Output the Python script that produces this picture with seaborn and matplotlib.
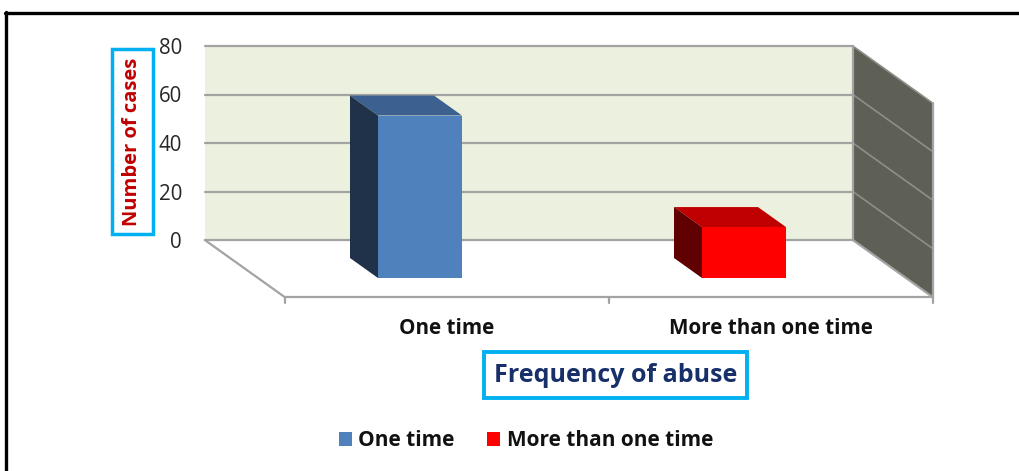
import matplotlib
matplotlib.use("Agg")
import matplotlib.pyplot as plt
import seaborn as sns
import pandas as pd
from matplotlib.patches import Polygon, Rectangle, Patch
from matplotlib.lines import Line2D

# ---- data ----
categories = ["One time", "More than one time"]
cases = [67, 21]
y_ticks = [0, 20, 40, 60, 80]
y_title = "Number of cases"
x_title = "Frequency of abuse"

# ---- colours ----
front_colors = ["#4F81BD", "#FF0000"]
top_colors = ["#3C6190", "#C00000"]
side_colors = ["#203249", "#600000"]
WALL = "#EBF1DE"
SIDE_WALL = "#5E5F55"
GRID = "#A3A3A3"
BOX = "#00B0F0"

W, H = 1019, 471
sns.set_theme(style="white")
plt.rcParams["font.family"] = ["Open Sans", "DejaVu Sans"]

fig = plt.figure(figsize=(W / 100, H / 100), dpi=100)
fig.patch.set_facecolor("white")

# ---- 3-D box geometry (pixels) ----
PX_CAT = 324.0          # pixels per category
PX_VAL = 194.0 / 80     # pixels per case
X0_PX, Y0_PX = 420.0, 278.0   # first bar front face centre / baseline
SLANT = 1.4             # horizontal shift per pixel of depth
Z_BAR = 20              # bar depth
Z_WALL = 38             # back wall depth (behind bar fronts)
Z_FRONT = -19           # front edge of floor
VMAX = y_ticks[-1]


def fx(px):
    return px / W


def fy(py):
    return 1 - py / H


# back wall: its own axes so the value ticks are real ticks
wall_left = X0_PX - 0.5 * PX_CAT - SLANT * Z_WALL
wall_bottom = Y0_PX - Z_WALL
wall_top = wall_bottom - VMAX * PX_VAL
wall_ax = fig.add_axes([fx(wall_left), fy(wall_bottom),
                        2 * PX_CAT / W, (wall_bottom - wall_top) / H])
wall_ax.set_facecolor(WALL)
wall_ax.set_ylim(0, VMAX)
wall_ax.set_xlim(0, 1)
wall_ax.set_yticks(y_ticks)
wall_ax.set_yticklabels([str(t) for t in y_ticks])
wall_ax.set_xticks([])
wall_ax.tick_params(axis="y", length=0, pad=16.5, labelsize=14.8,
                    labelcolor="#262626")
for s in wall_ax.spines.values():
    s.set_visible(False)
wall_ax.set_zorder(0)

# main axes spanning the figure, scaled to the front plane of the bars
ax = fig.add_axes([0, 0, 1, 1])
ax.set_zorder(1)
ax.patch.set_visible(False)

df = pd.DataFrame({"Frequency": categories, "Cases": cases})
sns.barplot(data=df, x="Frequency", y="Cases", hue="Frequency",
            palette=front_colors, width=84 / PX_CAT, saturation=1,
            legend=False, linewidth=0, ax=ax, zorder=6)

ax.set_xlim(-X0_PX / PX_CAT, (W - X0_PX) / PX_CAT)
ax.set_ylim(-(H - Y0_PX) / PX_VAL, Y0_PX / PX_VAL)
ax.axis("off")


def P(x, y, z):
    return (x - SLANT * z / PX_CAT, y + z / PX_VAL)


bars = list(ax.patches)

# right side wall
ax.add_patch(Polygon([P(1.5, 0, Z_WALL), P(1.5, VMAX, Z_WALL),
                      P(1.5, VMAX, Z_FRONT), P(1.5, 0, Z_FRONT)],
                     closed=True, fc=SIDE_WALL, ec="none", zorder=1))

# gridlines on back wall and side wall
for t in y_ticks:
    a, b = P(-0.5, t, Z_WALL), P(1.5, t, Z_WALL)
    ax.add_line(Line2D([a[0], b[0]], [a[1], b[1]], color=GRID, lw=1.6, zorder=2))
    c = P(1.5, t, Z_FRONT)
    if t > 0:
        ax.add_line(Line2D([b[0], c[0]], [b[1], c[1]], color="#8E8F88",
                           lw=1.2, zorder=2))

# wall/floor edges
edges = [
    (P(1.5, 0, Z_WALL), P(1.5, VMAX, Z_WALL)),
    (P(-0.5, 0, Z_WALL), P(-0.5, 0, Z_FRONT)),
    (P(-0.5, 0, Z_FRONT), P(1.5, 0, Z_FRONT)),
    (P(1.5, 0, Z_WALL), P(1.5, 0, Z_FRONT)),
    (P(1.5, 0, Z_FRONT), P(1.5, VMAX, Z_FRONT)),
]
for a, b in edges:
    ax.add_line(Line2D([a[0], b[0]], [a[1], b[1]], color=GRID, lw=1.6, zorder=3))

# category ticks on front edge of floor
for xt in [-0.5, 0.5, 1.5]:
    a = P(xt, 0, Z_FRONT)
    ax.add_line(Line2D([a[0], a[0]], [a[1], a[1] - 6 / PX_VAL], color=GRID,
                       lw=1.6, zorder=3))

# top and left faces of each bar
for p in bars:
    x0, w, h = p.get_x(), p.get_width(), p.get_height()
    i = int(round(x0 + w / 2))
    top = [P(x0, h, 0), P(x0 + w, h, 0), P(x0 + w, h, Z_BAR), P(x0, h, Z_BAR)]
    side = [P(x0, 0, 0), P(x0, h, 0), P(x0, h, Z_BAR), P(x0, 0, Z_BAR)]
    ax.add_patch(Polygon(top, closed=True, fc=top_colors[i], ec="none", zorder=5))
    ax.add_patch(Polygon(side, closed=True, fc=side_colors[i], ec="none", zorder=5))

# category labels along the front edge
for i, lab in enumerate(categories):
    xp, _ = P(i, 0, Z_FRONT)
    ax.text(xp, (Y0_PX - 328) / PX_VAL, lab, ha="center", va="center",
            fontsize=14.9, fontweight="bold", color="#111111")

# axis titles in boxes
fig.text(fx(132), fy(142), y_title, rotation=90, ha="center", va="center",
         fontsize=14.5, fontweight="bold", color="#C00000")
fig.add_artist(Rectangle((fx(112), fy(234)), fx(153) - fx(112),
                         fy(49) - fy(234), transform=fig.transFigure,
                         fill=False, ec=BOX, lw=2.5))

fig.text(fx(616), fy(375), x_title, ha="center", va="center",
         fontsize=18, fontweight="bold", color="#17306A")
fig.add_artist(Rectangle((fx(484), fy(398)), fx(747) - fx(484),
                         fy(352) - fy(398), transform=fig.transFigure,
                         fill=False, ec=BOX, lw=2.8))

# legend
handles = [Patch(fc=c, ec="none", label=l) for c, l in zip(front_colors, categories)]
fig.legend(handles=handles, loc="center", bbox_to_anchor=(fx(526), fy(441)),
           ncol=2, frameon=False, prop={"weight": "bold", "size": 15},
           handlelength=0.62, handleheight=0.62, handletextpad=0.33,
           columnspacing=1.55, labelcolor="#111111")

# outer frame
fig.add_artist(Line2D([fx(5), fx(W + 5)], [fy(13), fy(13)], color="black",
                      lw=2.4, transform=fig.transFigure))
fig.add_artist(Line2D([fx(5.5), fx(5.5)], [fy(12), fy(H + 5)], color="black",
                      lw=2.4, transform=fig.transFigure))

fig.savefig("out.png", dpi=100)
